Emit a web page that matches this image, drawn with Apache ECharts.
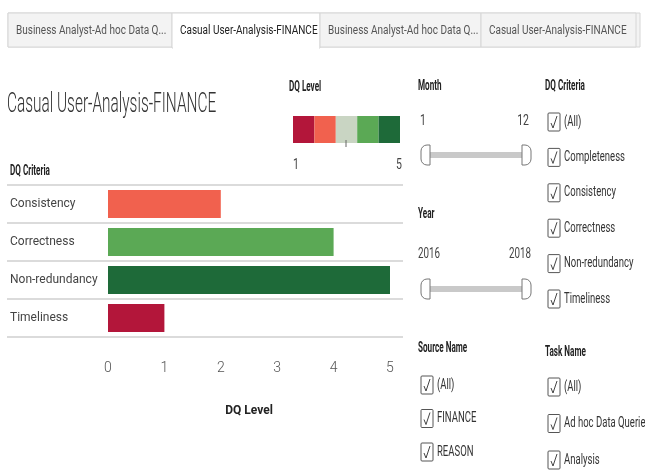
<!DOCTYPE html>
<html>
<head>
<meta charset="utf-8">
<script src="https://cdn.jsdelivr.net/npm/echarts@6/dist/echarts.min.js"></script>
<style>
  html, body { margin: 0; padding: 0; background: #fff; }
  #main { width: 645px; height: 470px; }
</style>
</head>
<body>
<div id="main"></div>
<script>
// data
var criteria = ['Consistency', 'Correctness', 'Non-redundancy', 'Timeliness'];
var dqLevel = [2, 4, 5, 1];
var levelTicks = [0, 1, 2, 3, 4, 5];
var levelColors = ['#b3163a', '#f1614e', '#c9d5c3', '#5ba955', '#1e6a39'];
var tabs = ['Business Analyst-Ad hoc Data Q...', 'Casual User-Analysis-FINANCE', 'Business Analyst-Ad hoc Data Q...', 'Casual User-Analysis-FINANCE'];
var criteriaFilter = ['(All)', 'Completeness', 'Consistency', 'Correctness', 'Non-redundancy', 'Timeliness'];
var sourceFilter = ['(All)', 'FINANCE', 'REASON'];
var taskFilter = ['(All)', 'Ad hoc Data Queries', 'Analysis'];
var monthRange = ['1', '12'];
var yearRange = ['2016', '2018'];

var FONT = 'Roboto, "Liberation Sans", sans-serif';
var chart = echarts.init(document.getElementById('main'));

var g = [];
// condensed look: squeeze text horizontally
function txt(x, y, s, size, opts) {
  opts = opts || {};
  g.push({
    type: 'text', x: x, y: y, scaleX: opts.sx || 0.75,
    style: {
      text: s, fontSize: size, fontFamily: FONT,
      fontWeight: opts.weight || 'normal',
      fill: opts.color || '#333',
      align: opts.align || 'left', verticalAlign: 'middle'
    }
  });
}
function head(x, y, s) {
  txt(x, y, s, 14, { weight: 'bold', sx: 0.58, color: '#222' });
}
function checkbox(x, cy, label) {
  g.push({ type: 'rect', shape: { x: x, y: cy - 9, width: 12, height: 18, r: 1 },
    style: { fill: '#fff', stroke: '#555', lineWidth: 1 } });
  g.push({ type: 'polyline', shape: { points: [[x + 3, cy + 1], [x + 5, cy + 6], [x + 9, cy - 6]] },
    style: { stroke: '#444', lineWidth: 1, fill: null } });
  txt(x + 16, cy, label, 14, { color: '#333', sx: 0.68 });
}
function slider(x1, x2, cy) {
  g.push({ type: 'rect', shape: { x: x1 + 8, y: cy - 3, width: x2 - x1 - 8, height: 6 },
    style: { fill: '#c9c9c9' } });
  g.push({ type: 'rect', shape: { x: x1, y: cy - 10, width: 9, height: 20, r: [6, 0, 0, 6] },
    style: { fill: '#fff', stroke: '#777', lineWidth: 1 } });
  g.push({ type: 'rect', shape: { x: x2, y: cy - 10, width: 9, height: 20, r: [0, 6, 6, 0] },
    style: { fill: '#fff', stroke: '#777', lineWidth: 1 } });
}

// tab strip
g.push({ type: 'rect', shape: { x: 8, y: 13, width: 632, height: 34 },
  style: { fill: '#f3f3f3', stroke: '#d6d6d6', lineWidth: 1 } });
var tabX = [8, 172, 320, 481, 636];
tabs.forEach(function (t, i) {
  var active = i === 1;
  g.push({ type: 'rect', shape: { x: tabX[i], y: 13, width: tabX[i + 1] - tabX[i], height: active ? 35 : 34 },
    style: { fill: active ? '#fff' : '#f3f3f3', stroke: '#d6d6d6', lineWidth: 1 } });
  txt(tabX[i] + 8, 31, t, 12.5, { color: active ? '#222' : '#555', sx: 0.8 });
});
g.push({ type: 'rect', shape: { x: 173, y: 46, width: 146, height: 3 }, style: { fill: '#fff' } });

// title and legend
txt(7, 105, 'Casual User-Analysis-FINANCE', 28, { color: '#333', sx: 0.55, weight: 300 });
head(289, 87, 'DQ Level');
levelColors.forEach(function (c, i) {
  g.push({ type: 'rect', shape: { x: 293 + i * 21.4, y: 116, width: 21.4, height: 27 }, style: { fill: c } });
});
g.push({ type: 'line', shape: { x1: 346, y1: 140, x2: 346, y2: 147 }, style: { stroke: '#666', lineWidth: 1 } });
txt(293, 165, '1', 14, { color: '#444' });
txt(396, 165, '5', 14, { color: '#444' });
head(10, 171, 'DQ Criteria');

// right panel filters
head(418, 86, 'Month');
txt(420, 121, monthRange[0], 14, { color: '#444' });
txt(529, 121, monthRange[1], 14, { color: '#444', align: 'right' });
slider(421, 522, 155);
head(418, 214, 'Year');
txt(418, 254, yearRange[0], 14, { color: '#444', sx: 0.7 });
txt(531, 254, yearRange[1], 14, { color: '#444', align: 'right', sx: 0.7 });
slider(421, 522, 289);

head(545, 86, 'DQ Criteria');
criteriaFilter.forEach(function (s, i) {
  checkbox(548, 122 + i * 35.4, s);
});
head(418, 348, 'Source Name');
sourceFilter.forEach(function (s, i) {
  checkbox(421, 385 + i * 33.5, s);
});
head(545, 352, 'Task Name');
taskFilter.forEach(function (s, i) {
  checkbox(548, 387 + i * 36.5, s);
});

chart.setOption({
  backgroundColor: '#fff',
  animation: false,
  textStyle: { fontFamily: FONT },
  grid: [
    { left: 108, right: 255, top: 185, bottom: 133 },
    { left: 7, right: 242, top: 185, bottom: 133 }
  ],
  xAxis: [
    {
      gridIndex: 0, type: 'value', min: 0, max: 5, interval: 1,
      axisLine: { show: false }, axisTick: { show: false }, splitLine: { show: false },
      axisLabel: { color: '#555', fontSize: 14, margin: 24, fontFamily: FONT, fontWeight: 300,
        formatter: function (v) { return levelTicks.indexOf(v) >= 0 ? String(v) : ''; } },
      name: 'DQ Level', nameLocation: 'middle', nameGap: 68,
      nameTextStyle: { fontSize: 12, fontWeight: 'bold', color: '#222', fontFamily: FONT }
    },
    { gridIndex: 1, type: 'value', show: false }
  ],
  yAxis: [
    {
      gridIndex: 0, type: 'category', data: criteria, inverse: true,
      axisLine: { show: false }, axisTick: { show: false }, axisLabel: { show: false }
    },
    {
      gridIndex: 1, type: 'category', data: criteria, inverse: true,
      axisLine: { show: false }, axisTick: { show: false },
      axisLabel: { inside: true, margin: 3, color: '#444', fontSize: 12, fontFamily: FONT },
      splitLine: { show: true, lineStyle: { color: '#cfcfcf', width: 1.5 } }
    }
  ],
  series: [{
    type: 'bar',
    xAxisIndex: 0, yAxisIndex: 0,
    barWidth: 28,
    data: dqLevel.map(function (v) {
      return { value: v, itemStyle: { color: levelColors[v - 1] } };
    })
  }],
  graphic: g
});
</script>
</body>
</html>
